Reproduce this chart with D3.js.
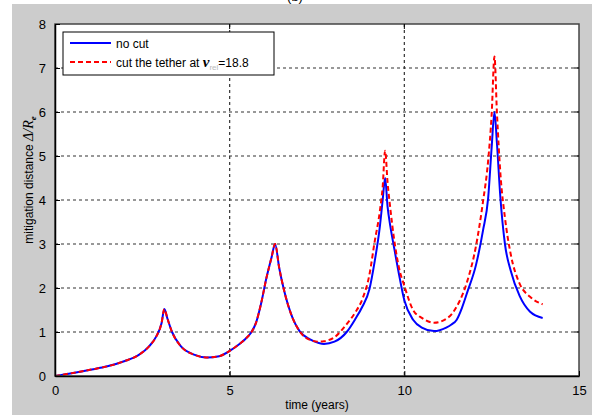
<!DOCTYPE html>
<html>
<head>
<meta charset="utf-8">
<script src="https://cdn.jsdelivr.net/npm/d3@7"></script>
<style>
  body { margin: 0; background: #fff; }
  text { font-family: "Liberation Sans", Arial, sans-serif; }
</style>
</head>
<body>
<script>
// time samples (years), shared by both curves
const time = [0, 0.3, 0.6, 1.0, 1.5, 2.0, 2.4, 2.7, 2.9, 3.05, 3.13, 3.22, 3.35, 3.6, 4.0, 4.35, 4.7,
  5.0, 5.3, 5.45, 5.6, 5.75, 5.9, 6.05, 6.2, 6.3, 6.42, 6.55, 6.8, 7.0, 7.3, 7.55, 7.7, 8.0, 8.35, 8.6, 8.8,
  9.0, 9.15, 9.3, 9.38, 9.45, 9.52, 9.6, 9.7, 9.85, 10.0, 10.25, 10.5, 10.85, 11.2, 11.35, 11.5, 11.65, 11.8,
  12.05, 12.25, 12.4, 12.5, 12.58, 12.65, 12.75, 12.88, 13.05, 13.3, 13.6, 13.96];

// mitigation distance, no cut (blue)
const noCut = [0, 0.04, 0.08, 0.14, 0.22, 0.34, 0.48, 0.68, 0.9, 1.2, 1.52, 1.3, 1.0, 0.68, 0.48, 0.42, 0.45,
  0.57, 0.74, 0.84, 0.97, 1.2, 1.65, 2.22, 2.7, 3.0, 2.45, 1.97, 1.32, 1.02, 0.83, 0.75, 0.73, 0.78, 1.0, 1.3, 1.58,
  1.97, 2.6, 3.4, 4.0, 4.5, 3.85, 3.4, 2.95, 2.3, 1.72, 1.28, 1.1, 1.02, 1.1, 1.17, 1.28, 1.55, 1.9,
  2.52, 3.3, 4.05, 5.2, 6.0, 5.3, 4.05, 3.0, 2.38, 1.82, 1.46, 1.32];

// mitigation distance, tether cut (red dashed)
const withCut = [0, 0.04, 0.08, 0.14, 0.22, 0.34, 0.48, 0.68, 0.9, 1.2, 1.52, 1.3, 1.0, 0.68, 0.48, 0.42, 0.45,
  0.57, 0.74, 0.84, 0.97, 1.2, 1.65, 2.22, 2.7, 3.0, 2.45, 1.97, 1.32, 1.02, 0.82, 0.78, 0.79, 0.88, 1.18, 1.45, 1.75,
  2.3, 3.05, 3.75, 4.3, 5.12, 4.4, 3.8, 3.15, 2.45, 2.05, 1.5, 1.32, 1.21, 1.3, 1.4, 1.58, 1.82, 2.15,
  2.95, 3.95, 4.9, 5.95, 7.26, 6.0, 4.6, 3.6, 2.75, 2.1, 1.8, 1.63];

const xTicks = [0, 5, 10, 15];
const yTicks = [0, 1, 2, 3, 4, 5, 6, 7, 8];

const W = 592, H = 415;
const svg = d3.select("body").append("svg").attr("width", W).attr("height", H);

// title, mostly hidden above the figure edge as in the source
svg.append("text").attr("x", 295).attr("y", 1).attr("text-anchor", "middle")
  .style("font-size", "13px").text("(b)");
svg.append("rect").attr("x", 12).attr("y", 4).attr("width", W - 12).attr("height", H - 4).attr("fill", "#cccccc");

const plot = { left: 55, right: 579, top: 24, bottom: 376 };
const x = d3.scaleLinear().domain([0, 15]).range([plot.left, plot.right]);
const y = d3.scaleLinear().domain([0, 8]).range([plot.bottom, plot.top]);

svg.append("rect").attr("x", plot.left).attr("y", plot.top)
  .attr("width", plot.right - plot.left).attr("height", plot.bottom - plot.top)
  .attr("fill", "#fff");

// grid
const grid = svg.append("g");
grid.selectAll("line.h").data(yTicks.slice(1, -1)).join("line")
  .attr("x1", plot.left).attr("x2", plot.right)
  .attr("y1", d => y(d)).attr("y2", d => y(d))
  .attr("stroke", "#333").attr("stroke-width", 1.2).attr("stroke-dasharray", "3,3");
grid.selectAll("line.v").data(xTicks.slice(1, -1)).join("line")
  .attr("y1", plot.top).attr("y2", plot.bottom)
  .attr("x1", d => x(d)).attr("x2", d => x(d))
  .attr("stroke", "#333").attr("stroke-width", 1.2).attr("stroke-dasharray", "3,3");

// curves
const line = d3.line().x(d => x(d[0])).y(d => y(d[1])).curve(d3.curveMonotoneX);
svg.append("path").datum(time.map((t, i) => [t, noCut[i]]))
  .attr("d", line).attr("fill", "none").attr("stroke", "#0000ff").attr("stroke-width", 2);
svg.append("path").datum(time.map((t, i) => [t, withCut[i]]))
  .attr("d", line).attr("fill", "none").attr("stroke", "#ff0000").attr("stroke-width", 2)
  .attr("stroke-dasharray", "5,3");

// axes box
svg.append("rect").attr("x", plot.left).attr("y", plot.top)
  .attr("width", plot.right - plot.left).attr("height", plot.bottom - plot.top)
  .attr("fill", "none").attr("stroke", "#444").attr("stroke-width", 1.5);

const xAxis = svg.append("g").attr("transform", `translate(0,${plot.bottom})`)
  .call(d3.axisBottom(x).tickValues(xTicks).tickSizeInner(-5).tickSizeOuter(0).tickPadding(10));
const yAxis = svg.append("g").attr("transform", `translate(${plot.left},0)`)
  .call(d3.axisLeft(y).tickValues(yTicks).tickSizeInner(-5).tickSizeOuter(0).tickPadding(9));
[xAxis, yAxis].forEach(a => {
  a.select(".domain").attr("stroke", "#000").attr("stroke-width", 1.5);
  a.selectAll("text").style("font-size", "13px").attr("fill", "#000")
    .style("font-family", "'Liberation Sans', Arial, sans-serif");
});
// ticks on top/right sides
svg.append("g").selectAll("line").data(xTicks.slice(1, -1)).join("line")
  .attr("x1", d => x(d)).attr("x2", d => x(d)).attr("y1", plot.top).attr("y2", plot.top + 5).attr("stroke", "#000");
svg.append("g").selectAll("line").data(yTicks.slice(1, -1)).join("line")
  .attr("y1", d => y(d)).attr("y2", d => y(d)).attr("x1", plot.right).attr("x2", plot.right - 5).attr("stroke", "#000");

// axis labels
svg.append("text").attr("x", (plot.left + plot.right) / 2).attr("y", 409)
  .attr("text-anchor", "middle").style("font-size", "12px").text("time (years)");
const yl = svg.append("text").attr("transform", "translate(33,180) rotate(-90)")
  .attr("text-anchor", "middle").style("font-size", "12px");
yl.append("tspan").text("mitigation distance  ");
yl.append("tspan").style("font-family", "'Liberation Serif', 'Times New Roman', serif")
  .style("font-style", "italic").style("font-size", "14px").text("Δ/R");
yl.append("tspan").style("font-family", "'Liberation Serif', serif").style("font-style", "italic")
  .style("font-weight", "bold").style("font-size", "9px").attr("dy", 3).text("e");

// legend
const lg = svg.append("g");
lg.append("rect").attr("x", 63).attr("y", 32).attr("width", 211).attr("height", 43)
  .attr("fill", "#fff").attr("stroke", "#000").attr("stroke-width", 1);
lg.append("line").attr("x1", 70).attr("x2", 111).attr("y1", 43).attr("y2", 43)
  .attr("stroke", "#0000ff").attr("stroke-width", 2);
lg.append("line").attr("x1", 70).attr("x2", 111).attr("y1", 62).attr("y2", 62)
  .attr("stroke", "#ff0000").attr("stroke-width", 2).attr("stroke-dasharray", "5,3");
lg.append("text").attr("x", 116).attr("y", 48).style("font-size", "12px").text("no cut");
const lt = lg.append("text").attr("x", 116).attr("y", 67).style("font-size", "12px");
lt.append("tspan").text("cut the tether at ");
lt.append("tspan").style("font-family", "'Liberation Serif', serif").style("font-weight", "bold")
  .style("font-style", "italic").style("font-size", "15px").text("ν");
lt.append("tspan").attr("dy", 3).style("font-size", "8px").attr("fill", "#bbb").text("rel");
lt.append("tspan").attr("dy", -3).text("=18.8");
</script>
</body>
</html>
